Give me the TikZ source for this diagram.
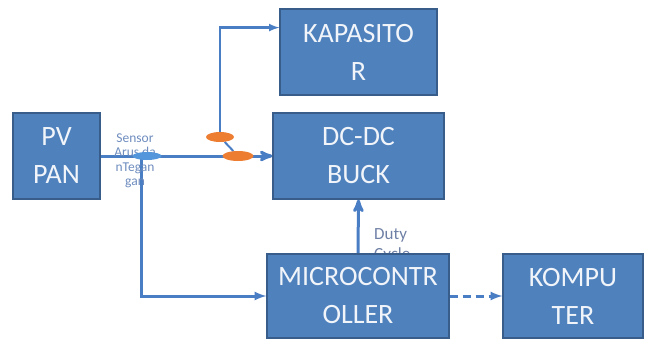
\documentclass[tikz,border=0pt]{standalone}
\usepackage{fontspec}
\setmainfont{Carlito}
\usepackage{tikz}
\usetikzlibrary{shapes.geometric}
\usetikzlibrary{arrows}
\usetikzlibrary{calc}
\usetikzlibrary{backgrounds}

\definecolor{boxblue}{RGB}{79,129,189}
\definecolor{boxedge}{RGB}{56,93,138}
\definecolor{wireblue}{RGB}{74,126,196}
\definecolor{tapblue}{RGB}{84,150,220}
\definecolor{taporange}{RGB}{237,125,49}
\definecolor{labelblue}{RGB}{110,140,190}
\definecolor{labelgray}{RGB}{110,128,165}

\tikzset{
	block/.style={rectangle, draw=boxedge, line width=1.2pt, fill=boxblue, text=white!92!boxblue, font=\fontsize{28}{38}\selectfont, align=center, inner sep=0pt},
	wire/.style={draw=wireblue, line width=3pt},
	tap/.style={ellipse, inner sep=0pt},
}

\begin{document}
\begin{tikzpicture}[x=1pt, y=-1pt]
	\useasboundingbox (0,0) rectangle (645,338);
	
	\node[block, minimum width=87pt, minimum height=86pt] (pv) at (56.5,156) {PV\\PAN};
	\node[block, minimum width=157pt, minimum height=86pt] (kapasitor) at (358.5,52) {KAPASITO\\R};
	\node[block, minimum width=171pt, minimum height=86pt] (buck) at (358.5,156) {DC-DC\\BUCK};
	
	\node[font=\fontsize{17}{20}\selectfont, text=labelgray, align=left, inner sep=0pt, anchor=north west] (duty) at (374,228) {Duty\\Cycle};
	
	\node[block, minimum width=182pt, minimum height=84pt] (mcu) at (358,296) {MICROCONTR\\OLLER};
	\node[block, minimum width=140pt, minimum height=84pt] (komputer) at (573,296) {KOMPU\\TER};
	
	\node[font=\fontsize{13.5}{14.5}\selectfont, text=labelblue, align=center, inner sep=0pt] (senslbl) at (135,161) {Sensor\\Arus da\\nTegan\\gan};
	
	\node[tap, fill=tapblue, minimum width=29pt, minimum height=8pt] (sens) at (147,156) {};
	\node[tap, fill=taporange, minimum width=28pt, minimum height=10pt] (tapa) at (220,137) {};
	\node[tap, fill=taporange, minimum width=31pt, minimum height=10pt] (tapb) at (238,156) {};
	
	\coordinate (sdrop) at (141,156);
	\coordinate (kin) at ($(kapasitor.north west)!0.22!(kapasitor.south west)$);
	
	\begin{pgfonlayer}{background}
		\draw[wire, -stealth'] (pv.east) -- (buck.west);
		\draw[wire, -latex] (sdrop) |- (mcu.west);
		\draw[wire, line width=2.5pt, -latex] (tapa.center) |- (kin);
		\draw[wire, line width=2pt] (tapa) -- (tapb);
		\draw[wire, -stealth'] (mcu.north) -- (buck.south);
		\draw[wire, dash pattern=on 8pt off 5pt, -latex] (mcu.east) -- (komputer.west);
	\end{pgfonlayer}
\end{tikzpicture}
\end{document}
